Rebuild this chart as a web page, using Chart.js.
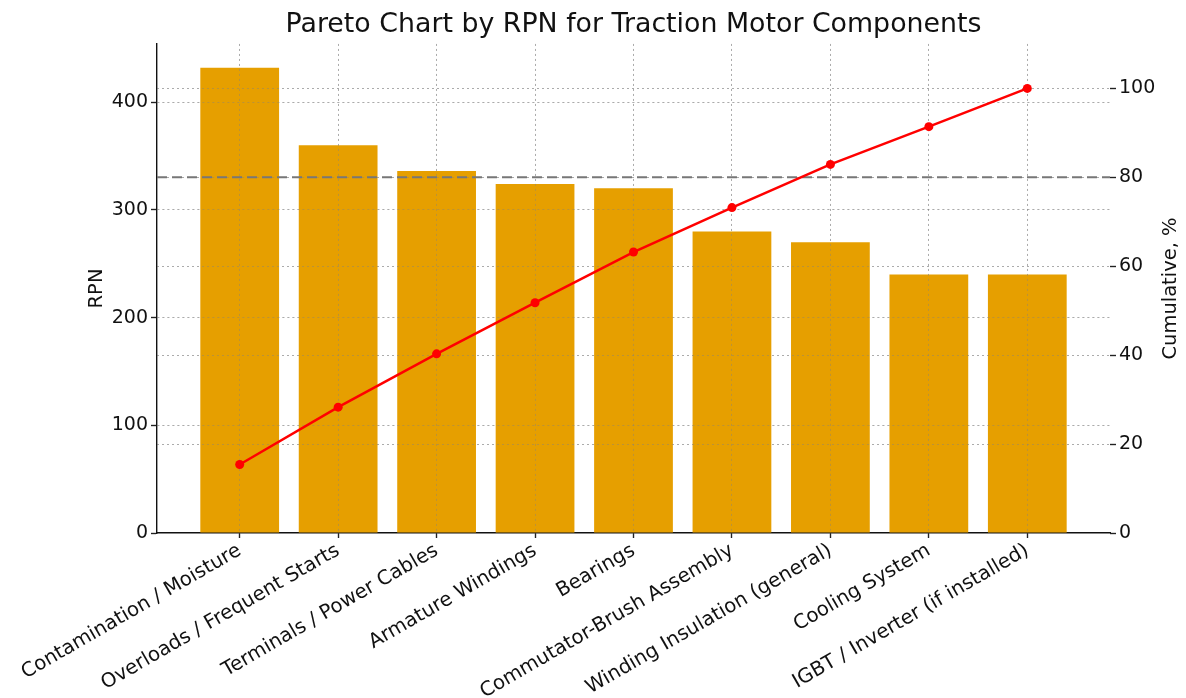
<!DOCTYPE html>
<html>
<head>
<meta charset="utf-8">
<title>Pareto Chart by RPN</title>
<script src="https://cdn.jsdelivr.net/npm/chart.js@4.4.0/dist/chart.umd.min.js"></script>
<style>
  html, body { margin: 0; padding: 0; background: #fff; }
</style>
</head>
<body>
<canvas id="pareto" width="1186" height="698"></canvas>
<script>
// data
const CATEGORIES = [
    'Contamination / Moisture',
    'Overloads / Frequent Starts',
    'Terminals / Power Cables',
    'Armature Windings',
    'Bearings',
    'Commutator-Brush Assembly',
    'Winding Insulation (general)',
    'Cooling System',
    'IGBT / Inverter (if installed)'
];
const RPN = [432, 360, 336, 324, 320, 280, 270, 240, 240];
const CUMULATIVE = [15.4, 28.3, 40.3, 51.8, 63.2, 73.2, 82.9, 91.4, 100];
const THRESHOLD = 80;
const RPN_TICKS = [0, 100, 200, 300, 400];
const CUM_TICKS = [0, 20, 40, 60, 80, 100];

// axis limits (matplotlib-like margins)
const X_MIN = -0.84, X_MAX = 8.84;
const RPN_MAX = 454;
const CUM_MAX = 110;

const FONT = "'DejaVu Sans', sans-serif";
const TEXT = '#111';
const GRID = 'rgba(128,128,128,0.42)';

Chart.defaults.font.family = FONT;
Chart.defaults.color = TEXT;

// grid drawn again right after the bars so it shows on top of them
const gridOverBars = {
    id: 'gridOverBars',
    afterDatasetDraw(chart, args) {
        if (args.index !== 2) return;
        ['x', 'y', 'y1'].forEach(id => chart.scales[id].drawGrid(chart.chartArea));
    }
};

// axis titles, both read bottom-to-top like the original
const axisTitles = {
    id: 'axisTitles',
    afterDraw(chart) {
        const { ctx, chartArea } = chart;
        const midY = (chartArea.top + chartArea.bottom) / 2;
        ctx.save();
        ctx.font = '19.5px ' + FONT;
        ctx.fillStyle = TEXT;
        ctx.textAlign = 'center';
        ctx.textBaseline = 'middle';
        [[97, 'RPN'], [1171, 'Cumulative, %']].forEach(([x, txt]) => {
            ctx.save();
            ctx.translate(x, midY);
            ctx.rotate(-Math.PI / 2);
            ctx.fillText(txt, 0, 0);
            ctx.restore();
        });
        ctx.restore();
    }
};

const hideZero = c => (c.tick && c.tick.value === 0) ? 'rgba(0,0,0,0)' : GRID;

new Chart(document.getElementById('pareto'), {
    type: 'bar',
    data: {
        datasets: [
            {
                type: 'line',
                label: 'Cumulative %',
                data: CUMULATIVE.map((v, i) => ({ x: i, y: v })),
                yAxisID: 'y1',
                borderColor: '#ff0000',
                backgroundColor: '#ff0000',
                borderWidth: 2.5,
                pointRadius: 4.5,
                pointBorderWidth: 0,
                tension: 0
            },
            {
                type: 'line',
                label: '80%',
                data: [{ x: X_MIN, y: THRESHOLD }, { x: X_MAX, y: THRESHOLD }],
                yAxisID: 'y1',
                borderColor: '#777',
                borderWidth: 2,
                borderDash: [10, 5],
                pointRadius: 0
            },
            {
                label: 'RPN',
                data: RPN.map((v, i) => ({ x: i, y: v })),
                yAxisID: 'y',
                backgroundColor: '#E69F00',
                borderWidth: 0,
                categoryPercentage: 1,
                barPercentage: 0.8
            }
        ]
    },
    options: {
        responsive: false,
        animation: false,
        layout: { padding: 0 },
        plugins: {
            legend: { display: false },
            tooltip: { enabled: false },
            title: {
                display: true,
                fullSize: false,
                text: 'Pareto Chart by RPN for Traction Motor Components',
                font: { size: 26.8, weight: 'normal', family: FONT },
                color: TEXT,
                padding: { top: 9, bottom: 2.8 }
            }
        },
        scales: {
            x: {
                type: 'linear',
                min: X_MIN,
                max: X_MAX,
                offset: false,
                afterBuildTicks: axis => { axis.ticks = CATEGORIES.map((_, i) => ({ value: i })); },
                afterFit: s => { s.height = 698 - 533; },
                grid: {
                    offset: false,
                    color: GRID,
                    lineWidth: 1,
                    tickColor: '#222',
                    tickLength: 5,
                    tickWidth: 1.2
                },
                border: { display: true, color: '#111', width: 1.4, dash: [2, 3] },
                ticks: {
                    autoSkip: false,
                    minRotation: 30,
                    maxRotation: 30,
                    padding: 1,
                    font: { size: 19.8 },
                    callback: v => CATEGORIES[v] ?? ''
                }
            },
            y: {
                position: 'left',
                min: 0,
                max: RPN_MAX,
                afterBuildTicks: axis => { axis.ticks = RPN_TICKS.map(v => ({ value: v })); },
                afterFit: s => { s.width = 157; },
                grid: {
                    color: hideZero,
                    tickColor: '#222',
                    tickLength: 6,
                    tickWidth: 1.2
                },
                border: { display: true, color: '#111', width: 1.4, dash: [2, 3] },
                ticks: { padding: 3, font: { size: 19 } }
            },
            y1: {
                position: 'right',
                min: 0,
                max: CUM_MAX,
                afterBuildTicks: axis => { axis.ticks = CUM_TICKS.map(v => ({ value: v })); },
                afterFit: s => { s.width = 1186 - 1110; },
                grid: {
                    color: hideZero,
                    tickColor: '#222',
                    tickLength: 6,
                    tickWidth: 1.2
                },
                border: { display: false, dash: [2, 3] },
                ticks: { padding: 3, font: { size: 19 } }
            }
        }
    },
    plugins: [gridOverBars, axisTitles]
});
</script>
</body>
</html>
